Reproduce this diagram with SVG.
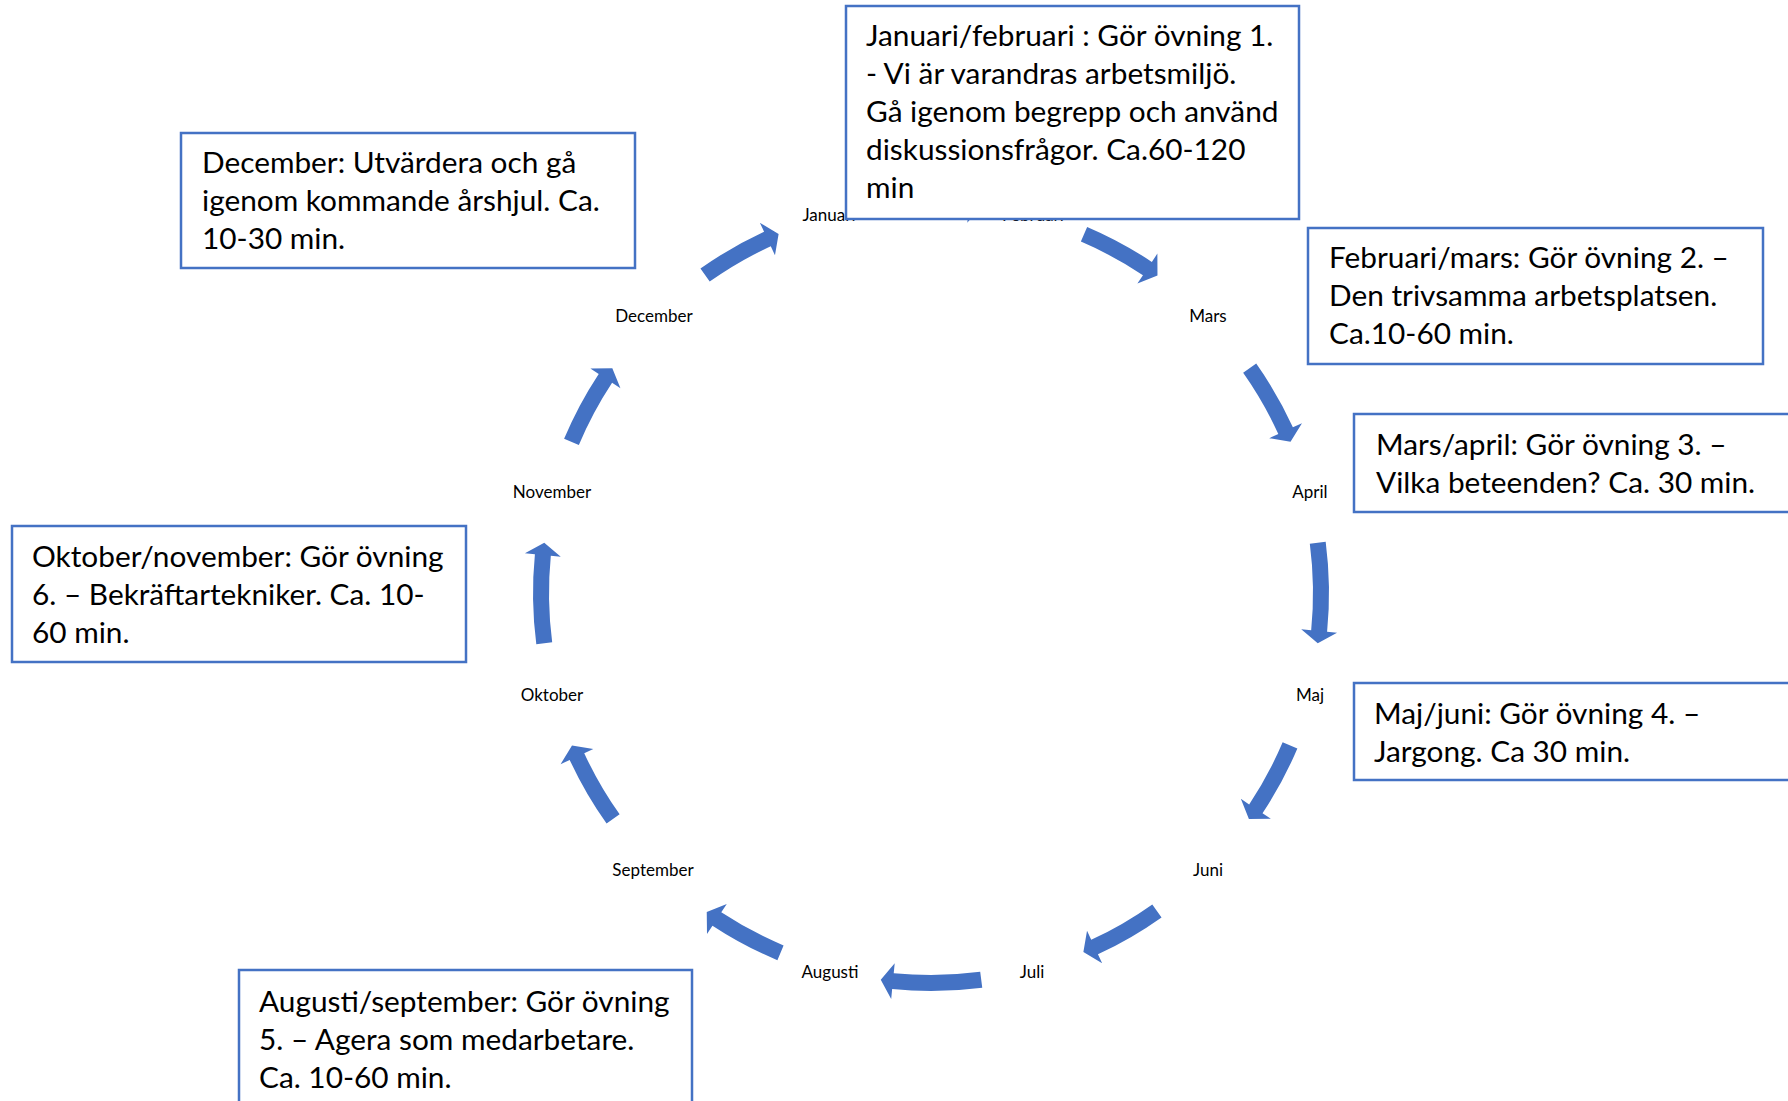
<svg xmlns="http://www.w3.org/2000/svg" xmlns:xlink="http://www.w3.org/1999/xlink" width="1788" height="1101" viewBox="0 0 1788 1101">
<style>
.arrow{fill:#4472C4;stroke:none}
.month{font-family:Lato,"Liberation Sans",sans-serif;font-size:17px;fill:#000;text-anchor:middle}
.box{fill:#fff;stroke:#4472C4;stroke-width:2.5}
.bt{font-family:Lato,"Liberation Sans",sans-serif;font-size:29.8px;fill:#000}
</style>
<defs>
<path id="arrA" d="M879.74,198.32 A398,398 0 0 1 969.84,196.90 L970.81,186.95 L981.23,206.25 L967.30,222.77 L968.28,212.82 A382,382 0 0 0 881.80,214.18 Z"/>
<path id="arrD" d="M888.02,197.33 A398,398 0 0 1 961.53,196.17 L962.30,186.20 L973.12,205.28 L959.54,222.10 L960.31,212.13 A382,382 0 0 0 889.74,213.23 Z"/>
</defs>
<rect width="1788" height="1101" fill="#fff"/>

<g id="month-labels">
<text id="m-jan" class="month" x="829" y="221">Januari</text>
<text id="m-feb" class="month" x="1033" y="221">Februari</text>
<text id="m-mar" class="month" x="1208" y="322">Mars</text>
<text id="m-apr" class="month" x="1310" y="498">April</text>
<text id="m-maj" class="month" x="1310" y="701">Maj</text>
<text id="m-jun" class="month" x="1208" y="876">Juni</text>
<text id="m-jul" class="month" x="1032" y="978">Juli</text>
<text id="m-aug" class="month" x="830" y="978">Augusti</text>
<text id="m-sep" class="month" x="653" y="876">September</text>
<text id="m-okt" class="month" x="552" y="701">Oktober</text>
<text id="m-nov" class="month" x="552" y="498">November</text>
<text id="m-dec" class="month" x="654" y="322">December</text>
</g>

<g id="connectors">
<use xlink:href="#arrA" href="#arrA" class="arrow"/>
<use xlink:href="#arrD" href="#arrD" class="arrow" transform="rotate(29.3 931 593)"/>
<use xlink:href="#arrD" href="#arrD" class="arrow" transform="rotate(61 931 593)"/>
<use xlink:href="#arrA" href="#arrA" class="arrow" transform="rotate(90 931 593)"/>
<use xlink:href="#arrD" href="#arrD" class="arrow" transform="rotate(119.2 931 593)"/>
<use xlink:href="#arrD" href="#arrD" class="arrow" transform="rotate(150.8 931 593)"/>
<use xlink:href="#arrA" href="#arrA" class="arrow" transform="rotate(180 931 593)"/>
<use xlink:href="#arrD" href="#arrD" class="arrow" transform="rotate(208.9 931 593)"/>
<use xlink:href="#arrD" href="#arrD" class="arrow" transform="rotate(240.8 931 593)"/>
<use xlink:href="#arrA" href="#arrA" class="arrow" transform="rotate(270 931 593)"/>
<use xlink:href="#arrD" href="#arrD" class="arrow" transform="rotate(299 931 593)"/>
<use xlink:href="#arrD" href="#arrD" class="arrow" transform="rotate(330.8 931 593)"/>
</g>

<g id="box-jan">
<rect class="box" x="846" y="6" width="453" height="213"/>
<text class="bt" x="866" y="46">Januari/februari : Gör övning 1.</text>
<text class="bt" x="866" y="84">- Vi är varandras arbetsmiljö.</text>
<text class="bt" x="866" y="122">Gå igenom begrepp och använd</text>
<text class="bt" x="866" y="160">diskussionsfrågor. Ca.60-120</text>
<text class="bt" x="866" y="198">min</text>
</g>

<g id="box-dec">
<rect class="box" x="181" y="133" width="454" height="135"/>
<text class="bt" x="202" y="173">December: Utvärdera och gå</text>
<text class="bt" x="202" y="211">igenom kommande årshjul. Ca.</text>
<text class="bt" x="202" y="249">10-30 min.</text>
</g>

<g id="box-feb">
<rect class="box" x="1308" y="228" width="455" height="136"/>
<text class="bt" x="1329" y="268">Februari/mars: Gör övning 2. –</text>
<text class="bt" x="1329" y="306">Den trivsamma arbetsplatsen.</text>
<text class="bt" x="1329" y="344">Ca.10-60 min.</text>
</g>

<g id="box-mar">
<rect class="box" x="1354" y="414" width="460" height="98"/>
<text class="bt" x="1376" y="455">Mars/april: Gör övning 3. –</text>
<text class="bt" x="1376" y="493">Vilka beteenden? Ca. 30 min.</text>
</g>

<g id="box-maj">
<rect class="box" x="1354" y="683" width="460" height="97"/>
<text class="bt" x="1374" y="724">Maj/juni: Gör övning 4. –</text>
<text class="bt" x="1374" y="762">Jargong. Ca 30 min.</text>
</g>

<g id="box-okt">
<rect class="box" x="12" y="526" width="454" height="136"/>
<text class="bt" x="32" y="567">Oktober/november: Gör övning</text>
<text class="bt" x="32" y="605">6. – Bekräftartekniker. Ca. 10-</text>
<text class="bt" x="32" y="643">60 min.</text>
</g>

<g id="box-aug">
<rect class="box" x="239" y="970" width="453" height="150"/>
<text class="bt" x="259" y="1012">Augusti/september: Gör övning</text>
<text class="bt" x="259" y="1050">5. – Agera som medarbetare.</text>
<text class="bt" x="259" y="1088">Ca. 10-60 min.</text>
</g>
</svg>
